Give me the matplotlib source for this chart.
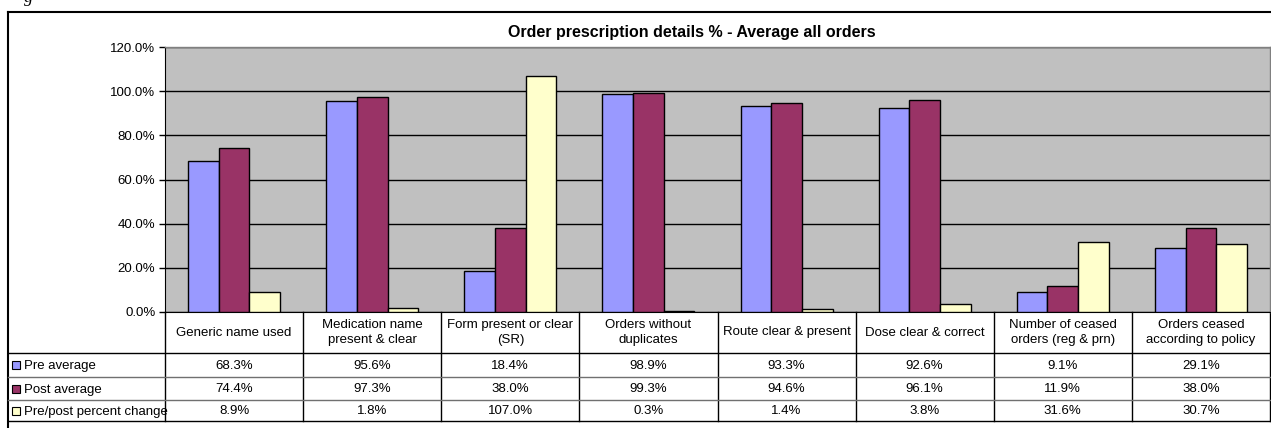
import numpy as np
import matplotlib
matplotlib.use("Agg")
import matplotlib.pyplot as plt
from matplotlib.transforms import blended_transform_factory
from matplotlib.patches import Rectangle
from matplotlib.lines import Line2D

plt.rcParams['font.family'] = ['Liberation Sans', 'DejaVu Sans']

# ---- data -------------------------------------------------------------
categories = [
    "Generic name used",
    "Medication name\npresent & clear",
    "Form present or clear\n(SR)",
    "Orders without\nduplicates",
    "Route clear & present",
    "Dose clear & correct",
    "Number of ceased\norders (reg & prn)",
    "Orders ceased\naccording to policy",
]
series_names = ["Pre average", "Post average", "Pre/post percent change"]
pre_avg = [68.3, 95.6, 18.4, 98.9, 93.3, 92.6, 9.1, 29.1]
post_avg = [74.4, 97.3, 38.0, 99.3, 94.6, 96.1, 11.9, 38.0]
pct_change = [8.9, 1.8, 107.0, 0.3, 1.4, 3.8, 31.6, 30.7]
y_ticks = [0, 20, 40, 60, 80, 100, 120]
title = "Order prescription details % - Average all orders"

colors = ["#9999FF", "#993366", "#FFFFCC"]

# ---- figure -----------------------------------------------------------
W, H = 1271, 428
DPI = 100
fig = plt.figure(figsize=(W / DPI, H / DPI), dpi=DPI)


def fx(px):
    return px / W


def fy(py):
    return 1 - py / H


FS = 9.5

# outer chart border
fig.add_artist(Line2D([fx(8), 1.01], [fy(12), fy(12)], color="black", lw=1.5,
                      transform=fig.transFigure))
fig.add_artist(Line2D([fx(8), fx(8)], [fy(12), -0.01], color="black", lw=1.5,
                      transform=fig.transFigure))

# caption fragment above the chart
fig.text(fx(24), fy(2), "g", family="Liberation Serif", style="italic",
         fontsize=13, va="baseline", ha="left")

ax_left, ax_right, ax_top, ax_bottom = 165, 1270, 47, 312
ax = fig.add_axes([fx(ax_left), fy(ax_bottom), fx(ax_right - ax_left),
                   fy(ax_top) - fy(ax_bottom)])
ax.set_facecolor("#C0C0C0")

n = len(categories)
x = np.arange(n)
bw = 1 / 4.5
series = [pre_avg, post_avg, pct_change]
for i, (vals, c) in enumerate(zip(series, colors)):
    ax.bar(x + (i - 1) * bw, vals, width=bw, color=c, edgecolor="black",
           linewidth=1.0, zorder=3)

ax.set_xlim(-0.5, n - 0.5)
ax.set_ylim(0, 120)
ax.set_yticks(y_ticks)
ax.set_yticklabels([f"{v:.1f}%" for v in y_ticks], fontsize=FS)
ax.tick_params(axis="y", direction="out", length=4, width=1, pad=3)
ax.set_xticks([])
ax.yaxis.grid(True, color="black", linewidth=1.0, zorder=1)
ax.set_axisbelow(True)
for s in ["top", "right"]:
    ax.spines[s].set_color("#808080")
    ax.spines[s].set_linewidth(1.0)
ax.spines["left"].set_color("black")
ax.spines["bottom"].set_color("black")

fig.text(fx(691.5), fy(33), title, fontsize=11.5, fontweight="bold",
         ha="center", va="center")

# ---- data table under the axes ------------------------------------------
tr = blended_transform_factory(ax.transData, fig.transFigure)
row_edges = [312, 353, 377, 400, 421]

# vertical column separators
for i in range(n + 1):
    xc = i - 0.5
    ax.add_line(Line2D([xc, xc], [fy(row_edges[0]), fy(row_edges[-1])],
                       color="black", lw=1.0, transform=tr, clip_on=False))

# horizontal row separators
for k, ry in enumerate(row_edges[1:]):
    col = "black" if k in (0, len(row_edges) - 2) else "#707070"
    fig.add_artist(Line2D([fx(8), fx(ax_right)], [fy(ry), fy(ry)],
                          color=col, lw=1.0, transform=fig.transFigure))

# category labels
cy = (row_edges[0] + row_edges[1]) / 2
for i, cat in enumerate(categories):
    ax.text(i, fy(cy), cat, transform=tr, ha="center", va="center",
            fontsize=FS, linespacing=1.4, clip_on=False)

# value rows with legend keys
for r, (name, vals, c) in enumerate(zip(series_names, series, colors)):
    ymid = (row_edges[r + 1] + row_edges[r + 2]) / 2
    fig.add_artist(Rectangle((fx(12), fy(ymid + 4)), fx(8), fy(ymid - 4) - fy(ymid + 4),
                             facecolor=c, edgecolor="black", lw=0.8,
                             transform=fig.transFigure))
    fig.text(fx(24), fy(ymid + 1), name, fontsize=FS, ha="left", va="center")
    for i, v in enumerate(vals):
        ax.text(i, fy(ymid + 1), f"{v:.1f}%", transform=tr, ha="center",
                va="center", fontsize=FS, clip_on=False)

fig.savefig("out.png", dpi=DPI, facecolor="white")
